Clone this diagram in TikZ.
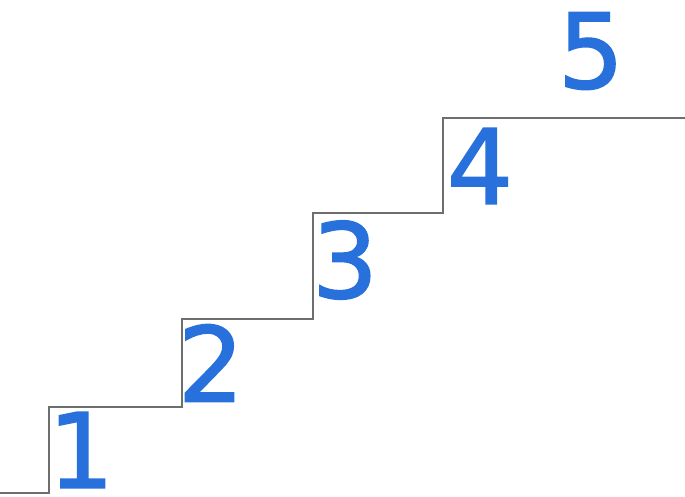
\documentclass[tikz,border=0pt]{standalone}
\usepackage{fontspec}
\newfontfamily\digitfont{DejaVu Sans}
\definecolor{stairgray}{RGB}{110,110,110}
\definecolor{digitblue}{RGB}{40,112,220}
\newcommand{\strokedigit}[1]{\special{pdf:literal direct 2 Tr 1.6 w}#1\special{pdf:literal direct 0 Tr}}
\begin{document}
\begin{tikzpicture}[x=1pt,y=-1pt,
  stairline/.style={draw=stairgray,line width=1.4pt},
  digit/.style={inner sep=0pt,font=\digitfont\fontsize{104}{110}\selectfont,text=digitblue}]
\useasboundingbox (0,0) rectangle (685,496);
\coordinate (s0) at (0,493);
\coordinate (s1) at (49,493);
\coordinate (s2) at (49,407);
\coordinate (s3) at (182,407);
\coordinate (s4) at (182,319);
\coordinate (s5) at (313,319);
\coordinate (s6) at (313,213);
\coordinate (s7) at (443,213);
\coordinate (s8) at (443,118);
\coordinate (s9) at (685,118);
\draw[stairline] (s0) -- (s1) -- (s2) -- (s3) -- (s4) -- (s5) -- (s6) -- (s7) -- (s8) -- (s9);
\foreach \n/\x/\y in {1/81/450,2/211/363,3/345/260,4/480/166,5/591/51}{
  \node[digit] (d\n) at (\x,\y) {\strokedigit{\n}};
}
\end{tikzpicture}
\end{document}
